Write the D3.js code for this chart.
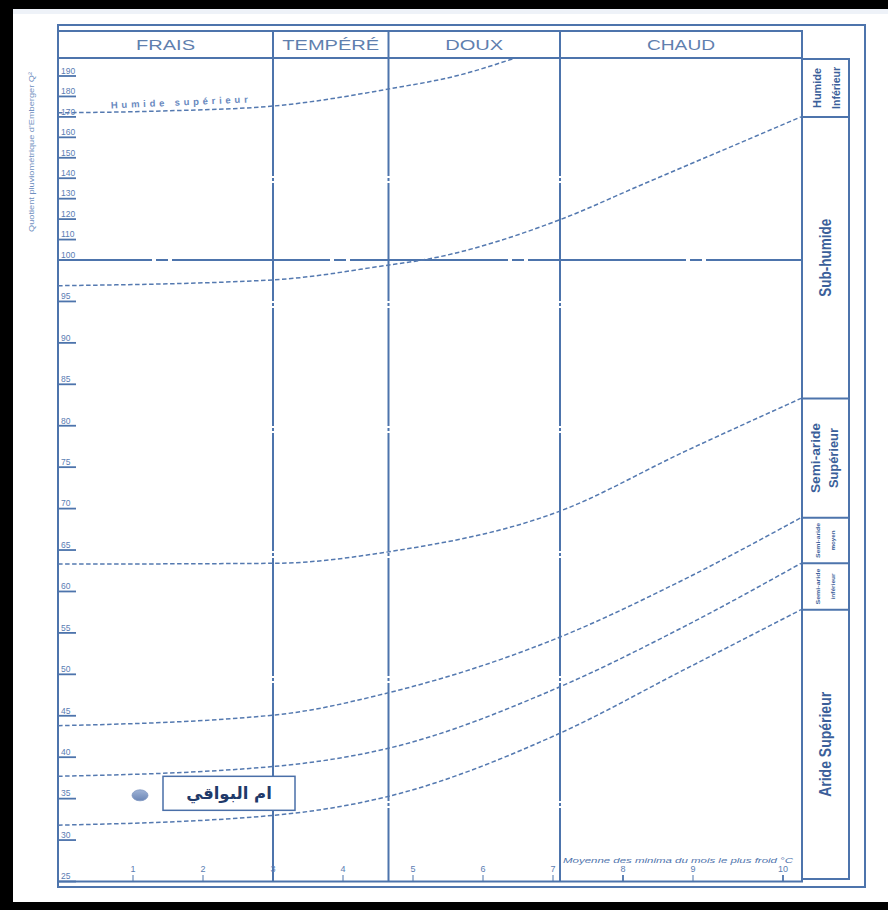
<!DOCTYPE html>
<html>
<head>
<meta charset="utf-8">
<script src="https://cdn.jsdelivr.net/npm/d3@7"></script>
<style>
  body { margin: 0; background: #fff; }
  svg { display: block; }
</style>
</head>
<body>
<svg id="chart" width="888" height="910"></svg>
<script>
// ---- Emberger climagram: data ----
// Thermal classes along the x axis (mean minimum of the coldest month, °C)
const thermalNames  = ["FRAIS", "TEMPÉRÉ", "DOUX", "CHAUD"];
const thermalLimits = [3.0, 4.65, 7.1];

// Axis ticks
const xTickValues = [1, 2, 3, 4, 5, 6, 7, 8, 9, 10];
const yTicksLower = [25, 30, 35, 40, 45, 50, 55, 60, 65, 70, 75, 80, 85, 90, 95];
const yTicksUpper = [100, 110, 120, 130, 140, 150, 160, 170, 180, 190];

// Bioclimatic limit curves (m in °C, Q2)
const humideSupM = [-0.07, 1.43, 3.0, 4.66, 5.67, 6.46];
const humideSupQ = [172, 172.9, 175.3, 183.7, 190.5, 198.8];
const humideInfM = [-0.07, 3.0, 4.66, 5.14, 7.09, 8.26, 10.2];
const humideInfQ = [96.9, 97.6, 99.4, 100, 119.6, 136.7, 170];
const lowerM        = [-0.07, 3.03, 4.66, 7.1, 8.86, 10.2];
const subHumideQ    = [63.3, 63.4, 64.8, 69.7, 76.8, 83.3];
const semiAridSupQ  = [43.8, 45.1, 47.8, 54.5, 61.4, 68.9];
const semiAridMoyQ  = [37.7, 38.9, 41.1, 48.5, 55.7, 63.4];
const semiAridInfQ  = [31.8, 33.0, 35.3, 42.9, 50.5, 57.8];

// Bioclimatic stages listed in the right-hand column (top to bottom)
const stageNames = [
  ["Humide", "Inférieur"],
  ["Sub-humide"],
  ["Semi-aride", "Supérieur"],
  ["Semi-aride", "moyen"],
  ["Semi-aride", "inférieur"],
  ["Aride Supérieur"]
];

// Station
const stationName = "ام البواقي";
const stationM = 1.1;
const stationQ = 35.4;

// ---- layout ----
const plot = { left: 58, right: 802, top: 58, bottom: 881.5 };
const headerTop = 31;
const outer = { left: 58, right: 865, top: 25, bottom: 887 };
const colRight = 849, colBottom = 879;
const blue = "#4d74ac";
const textBlue = "#5a7db3";
const darkBlue = "#3b5f9a";

const svg = d3.select("#chart");

// Scales: piecewise linear Q2 axis (compressed above 100)
const x = d3.scaleLinear().domain([0, 9, 10]).range([63, 693, 783]);
const y = d3.scaleLinear().domain([25, 100, 190]).range([881.5, 260, 76]);

// black border of the sheet
svg.append("rect").attr("x", 0).attr("y", 0).attr("width", 888).attr("height", 9).attr("fill", "#000");
svg.append("rect").attr("x", 0).attr("y", 0).attr("width", 13).attr("height", 910).attr("fill", "#000");
svg.append("rect").attr("x", 0).attr("y", 902).attr("width", 888).attr("height", 8).attr("fill", "#000");
svg.append("rect").attr("x", 13).attr("y", 9).attr("width", 875).attr("height", 5).attr("fill", "#eef2f8");

// outer frame
svg.append("path")
  .attr("d", `M${outer.left},${outer.top}H${outer.right}V${outer.bottom}H${outer.left}Z`)
  .attr("fill", "none").attr("stroke", blue).attr("stroke-width", 2);

// header row
svg.append("rect")
  .attr("x", plot.left).attr("y", headerTop)
  .attr("width", plot.right - plot.left).attr("height", plot.top - headerTop)
  .attr("fill", "none").attr("stroke", blue).attr("stroke-width", 2);

const colEdges = [plot.left, ...thermalLimits.map(v => x(v)), plot.right];
const headerLen = [59, 97, 58, 68];
thermalNames.forEach((name, i) => {
  const cx = (colEdges[i] + colEdges[i + 1]) / 2;
  svg.append("text")
    .attr("x", cx).attr("y", 49.5)
    .attr("text-anchor", "middle")
    .attr("font-family", "Liberation Sans, Arial, sans-serif")
    .attr("font-size", 14)
    .attr("fill", "#5f7fae")
    .attr("textLength", headerLen[i])
    .attr("lengthAdjust", "spacingAndGlyphs")
    .text(name);
  if (i > 0) {
    svg.append("line")
      .attr("x1", colEdges[i]).attr("x2", colEdges[i])
      .attr("y1", headerTop).attr("y2", plot.top)
      .attr("stroke", blue).attr("stroke-width", 2);
  }
});

// plot frame
svg.append("rect")
  .attr("x", plot.left).attr("y", plot.top)
  .attr("width", plot.right - plot.left).attr("height", plot.bottom - plot.top)
  .attr("fill", "none").attr("stroke", blue).attr("stroke-width", 2);

// thermal class separators (dash-dot lines)
thermalLimits.forEach(v => {
  svg.append("line")
    .attr("x1", x(v)).attr("x2", x(v))
    .attr("y1", plot.top).attr("y2", plot.bottom)
    .attr("stroke", blue).attr("stroke-width", 2)
    .attr("stroke-dasharray", "118,2,3,2");
});

// Q2 = 100 break line (long dash - short dash)
svg.append("line")
  .attr("x1", plot.left).attr("x2", plot.right)
  .attr("y1", y(100)).attr("y2", y(100))
  .attr("stroke", blue).attr("stroke-width", 2)
  .attr("stroke-dasharray", "158,4,12,4")
  .attr("stroke-dashoffset", 64);

// y axis ticks and labels
const yTicks = yTicksLower.concat(yTicksUpper);
const yAxis = svg.append("g").attr("class", "y-axis");
yTicks.forEach(t => {
  yAxis.append("line")
    .attr("x1", plot.left).attr("x2", 76)
    .attr("y1", y(t)).attr("y2", y(t))
    .attr("stroke", blue).attr("stroke-width", 1.8);
  yAxis.append("text")
    .attr("x", 61).attr("y", y(t) - 2.2)
    .attr("font-family", "Liberation Sans, Arial, sans-serif")
    .attr("font-size", 8.5)
    .attr("fill", textBlue)
    .text(t);
});

// y axis title
svg.append("text")
  .attr("transform", `translate(34,152) rotate(-90)`)
  .attr("text-anchor", "middle")
  .attr("font-family", "Liberation Sans, Arial, sans-serif")
  .attr("font-size", 7.5)
  .attr("fill", "#6f8fc0")
  .attr("textLength", 160)
  .attr("lengthAdjust", "spacingAndGlyphs")
  .text("Quotient pluviométrique d'Emberger Q²");

// x axis ticks and labels
const xAxis = svg.append("g").attr("class", "x-axis");
xTickValues.forEach(t => {
  xAxis.append("line")
    .attr("x1", x(t)).attr("x2", x(t))
    .attr("y1", 875).attr("y2", plot.bottom)
    .attr("stroke", blue).attr("stroke-width", t === 8 || t === 10 ? 1.8 : 1);
  xAxis.append("text")
    .attr("x", x(t)).attr("y", 872)
    .attr("text-anchor", "middle")
    .attr("font-family", "Liberation Sans, Arial, sans-serif")
    .attr("font-size", 9)
    .attr("fill", textBlue)
    .text(t);
});

svg.append("text")
  .attr("x", 563).attr("y", 863)
  .attr("font-family", "Liberation Sans, Arial, sans-serif")
  .attr("font-style", "italic")
  .attr("font-size", 7.5)
  .attr("fill", "#4f74ad")
  .attr("textLength", 230)
  .attr("lengthAdjust", "spacingAndGlyphs")
  .text("Moyenne des minima du mois le plus froid °C");

// limit curves
svg.append("clipPath").attr("id", "plotClip")
  .append("rect")
  .attr("x", plot.left).attr("y", plot.top)
  .attr("width", plot.right - plot.left).attr("height", plot.bottom - plot.top);

const curveLine = d3.line()
  .x(d => x(d[0]))
  .y(d => y(d[1]))
  .curve(d3.curveMonotoneX);

const curves = [
  d3.zip(humideSupM, humideSupQ),
  d3.zip(humideInfM, humideInfQ),
  d3.zip(lowerM, subHumideQ),
  d3.zip(lowerM, semiAridSupQ),
  d3.zip(lowerM, semiAridMoyQ),
  d3.zip(lowerM, semiAridInfQ)
];

svg.append("g").attr("clip-path", "url(#plotClip)")
  .selectAll("path")
  .data(curves)
  .join("path")
  .attr("d", curveLine)
  .attr("fill", "none")
  .attr("stroke", "#5479b0")
  .attr("stroke-width", 1.5)
  .attr("stroke-dasharray", "4.5,2.5");

// label on the upper curve
svg.append("text")
  .attr("transform", "translate(111,108.5) rotate(-2.5)")
  .attr("font-family", "Liberation Sans, Arial, sans-serif")
  .attr("font-size", 9.5)
  .attr("font-weight", "bold")
  .attr("fill", "#6a8ac0")
  .attr("textLength", 137)
  .attr("lengthAdjust", "spacing")
  .text("Humide supérieur");

// right column of bioclimatic stages
const stageBounds = [
  plot.top + 1,
  y(humideInfQ[humideInfQ.length - 1]),
  y(subHumideQ[subHumideQ.length - 1]),
  y(semiAridSupQ[semiAridSupQ.length - 1]),
  y(semiAridMoyQ[semiAridMoyQ.length - 1]),
  y(semiAridInfQ[semiAridInfQ.length - 1]),
  colBottom
];

svg.append("path")
  .attr("d", `M${plot.right},${stageBounds[0]}H${colRight}V${colBottom}H${plot.right}`)
  .attr("fill", "none").attr("stroke", blue).attr("stroke-width", 2);

stageBounds.slice(1, -1).forEach(b => {
  svg.append("line")
    .attr("x1", plot.right).attr("x2", colRight)
    .attr("y1", b).attr("y2", b)
    .attr("stroke", blue).attr("stroke-width", 2);
});

// per-stage text styling: font size, line offsets, text lengths
const stageStyle = [
  { size: 10, cols: [817, 836], len: [40, 42] },
  { size: 17, cols: [825.5], len: [78] },
  { size: 13, cols: [815, 833], len: [70, 60] },
  { size: 6, cols: [818, 833], len: [35, 20] },
  { size: 6, cols: [818, 833], len: [36, 26] },
  { size: 17, cols: [825.5], len: [105] }
];

stageNames.forEach((lines, i) => {
  const cy = (stageBounds[i] + stageBounds[i + 1]) / 2;
  const st = stageStyle[i];
  lines.forEach((ln, j) => {
    svg.append("text")
      .attr("transform", `translate(${st.cols[j]},${cy}) rotate(-90)`)
      .attr("text-anchor", "middle")
      .attr("dominant-baseline", "central")
      .attr("font-family", "Liberation Sans, Arial, sans-serif")
      .attr("font-weight", "bold")
      .attr("font-size", st.size)
      .attr("fill", darkBlue)
      .attr("textLength", st.len[j])
      .attr("lengthAdjust", "spacingAndGlyphs")
      .text(ln);
  });
});

// station marker and label
const defs = svg.append("defs");
const grad = defs.append("linearGradient").attr("id", "stationFill")
  .attr("x1", 0).attr("y1", 0).attr("x2", 0).attr("y2", 1);
grad.append("stop").attr("offset", "0%").attr("stop-color", "#9fb3d6");
grad.append("stop").attr("offset", "100%").attr("stop-color", "#6b86b6");

svg.append("ellipse")
  .attr("cx", x(stationM)).attr("cy", y(stationQ))
  .attr("rx", 8).attr("ry", 5.5)
  .attr("fill", "url(#stationFill)")
  .attr("stroke", "#7f97c2").attr("stroke-width", 0.8);

const boxX = x(stationM) + 23, boxY = y(stationQ) - 19;
svg.append("rect")
  .attr("x", boxX).attr("y", boxY)
  .attr("width", 132).attr("height", 34)
  .attr("fill", "#fff")
  .attr("stroke", "#4a6fa8").attr("stroke-width", 1.5);

svg.append("text")
  .attr("x", boxX + 66).attr("y", boxY + 17)
  .attr("text-anchor", "middle")
  .attr("dominant-baseline", "central")
  .attr("font-family", "DejaVu Sans, Noto Sans, sans-serif")
  .attr("font-weight", "bold")
  .attr("font-size", 16.5)
  .attr("fill", "#1f3a6a")
  .attr("direction", "rtl")
  .text(stationName);
</script>
</body>
</html>
